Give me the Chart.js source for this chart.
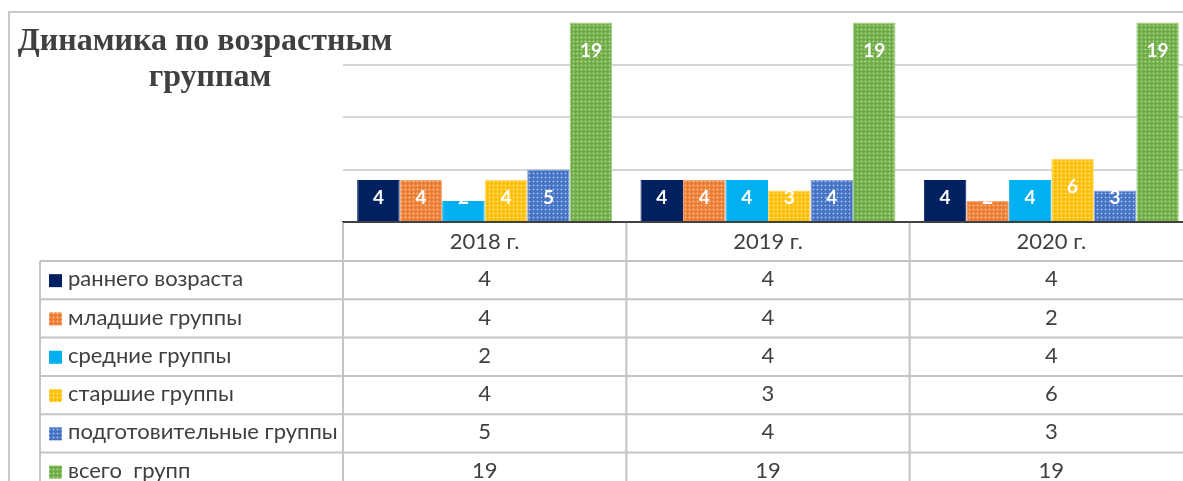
<!DOCTYPE html>
<html>
<head>
<meta charset="utf-8">
<script src="https://cdn.jsdelivr.net/npm/chart.js@4/dist/chart.umd.min.js"></script>
<style>
  html, body { margin: 0; padding: 0; background: #fff; overflow: hidden; }
  #wrap { position: absolute; left: 0; top: 0; width: 1183px; height: 481px; overflow: hidden; }
</style>
</head>
<body>
<div id="wrap"><canvas id="groups" width="1210" height="481"></canvas></div>
<script>
// data
const years = ['2018 г.', '2019 г.', '2020 г.'];
const seriesNames = ['раннего возраста', 'младшие группы', 'средние группы', 'старшие группы', 'подготовительные группы', 'всего  групп'];
const early = [4, 4, 4];
const junior = [4, 4, 2];
const middle = [2, 4, 4];
const senior = [4, 3, 6];
const prep = [5, 4, 3];
const total = [19, 19, 19];
const titleLines = ['Динамика по возрастным', 'группам'];

// small dotted fill like the office pattern
function dots(base, light) {
    var c = document.createElement('canvas');
    c.width = 4; c.height = 4;
    var g = c.getContext('2d');
    g.fillStyle = base;
    g.fillRect(0, 0, 4, 4);
    g.fillStyle = light;
    g.globalAlpha = 0.45;
    g.fillRect(0, 1, 3, 1);
    g.fillRect(1, 0, 1, 3);
    g.globalAlpha = 0.8;
    g.fillRect(1, 1, 1, 1);
    return g.createPattern(c, 'repeat');
}

var ctx = document.getElementById('groups').getContext('2d');
var fills = [
    '#002060',
    dots('#ED7D31', '#f8c3a0'),
    '#00B0F0',
    dots('#FFC000', '#ffe7a0'),
    dots('#4472C4', '#a8bfe8'),
    dots('#70AD47', '#b5dc9a')
];
var edges = ['#002060', '#f4a77a', '#00B0F0', '#ffd666', '#8fa9dc', '#a3d286'];
var values = [early, junior, middle, senior, prep, total];

var txt = '#404040';
var lineCol = '#c4c4c4';

// white value labels inside the bars, cut off by the bar itself
var barLabels = {
    id: 'barLabels',
    afterDatasetsDraw: function(chart) {
        var c = chart.ctx;
        chart.data.datasets.forEach(function(ds, i) {
            chart.getDatasetMeta(i).data.forEach(function(bar, j) {
                var p = bar.getProps(['x', 'y', 'base', 'width'], true);
                c.save();
                c.beginPath();
                c.rect(p.x - p.width / 2, p.y, p.width, p.base - p.y);
                c.clip();
                c.fillStyle = '#fff';
                c.font = 'bold 19px Lato';
                c.textAlign = 'center';
                c.textBaseline = 'alphabetic';
                c.fillText(String(ds.data[j]), p.x, Math.min(p.y + 34, p.base - 17));
                c.restore();
            });
        });
    }
};

// data table under the axis, title and frame
var dataTable = {
    id: 'dataTable',
    afterDraw: function(chart) {
        var c = chart.ctx;
        var a = chart.chartArea;
        var xs = chart.scales.x;
        var colW = (xs.right - xs.left) / years.length;
        var headH = 39, rowH = 38.3;
        var tableLeft = 40, outerLeft = 9;
        var H = chart.height;

        c.save();
        // outer frame
        c.strokeStyle = '#c8c8c8';
        c.lineWidth = 2;
        c.beginPath();
        c.moveTo(outerLeft, H);
        c.lineTo(outerLeft, a.top);
        c.lineTo(chart.width, a.top);
        c.stroke();

        // table grid
        c.strokeStyle = lineCol;
        c.lineWidth = 2;
        c.beginPath();
        for (var k = 0; k <= years.length; k++) {
            var vx = xs.left + k * colW;
            c.moveTo(vx, a.bottom);
            c.lineTo(vx, H);
        }
        c.moveTo(tableLeft, a.bottom + headH);
        c.lineTo(tableLeft, H);
        for (var r = 0; r <= seriesNames.length; r++) {
            var hy = a.bottom + headH + r * rowH;
            c.moveTo(tableLeft, hy);
            c.lineTo(xs.right, hy);
        }
        c.stroke();

        // axis line again on top of the grid
        c.strokeStyle = '#404040';
        c.lineWidth = 2;
        c.beginPath();
        c.moveTo(xs.left, a.bottom);
        c.lineTo(xs.right, a.bottom);
        c.stroke();

        c.fillStyle = txt;
        c.font = '22px Lato';
        c.textAlign = 'center';
        c.textBaseline = 'middle';
        years.forEach(function(y, j) {
            c.fillText(y, xs.getPixelForValue(j), a.bottom + headH / 2);
        });
        seriesNames.forEach(function(name, i) {
            var cy = a.bottom + headH + i * rowH + rowH / 2 - 1;
            c.fillStyle = fills[i];
            c.fillRect(49, cy - 5, 13, 13);
            c.fillStyle = txt;
            c.textAlign = 'left';
            c.fillText(name, 68, cy);
            c.textAlign = 'center';
            values[i].forEach(function(v, j) {
                c.fillText(String(v), xs.getPixelForValue(j), cy);
            });
        });

        // title
        c.font = 'bold 32px "Liberation Serif"';
        c.fillStyle = '#404040';
        c.textBaseline = 'alphabetic';
        c.fillText(titleLines[0], 205, 50);
        c.fillText(titleLines[1], 210, 86);
        c.restore();
    }
};

new Chart(ctx, {
    type: 'bar',
    data: {
        labels: years,
        datasets: seriesNames.map(function(name, i) {
            return {
                label: name,
                data: values[i],
                backgroundColor: fills[i],
                borderColor: edges[i],
                borderWidth: 1,
                categoryPercentage: 0.9,
                barPercentage: 1.0
            };
        })
    },
    options: {
        responsive: false,
        animation: false,
        layout: { padding: { left: 343, top: 12, right: 17, bottom: 251 } },
        plugins: {
            legend: { display: false },
            tooltip: { enabled: false }
        },
        scales: {
            x: {
                ticks: { display: false },
                grid: { display: false },
                border: { display: true, color: '#404040', width: 2 }
            },
            y: {
                min: 0,
                max: 20,
                ticks: { display: false, stepSize: 5 },
                grid: { color: '#d6d6d6', lineWidth: 2, drawTicks: false },
                border: { display: false }
            }
        }
    },
    plugins: [barLabels, dataTable]
});
</script>
</body>
</html>
